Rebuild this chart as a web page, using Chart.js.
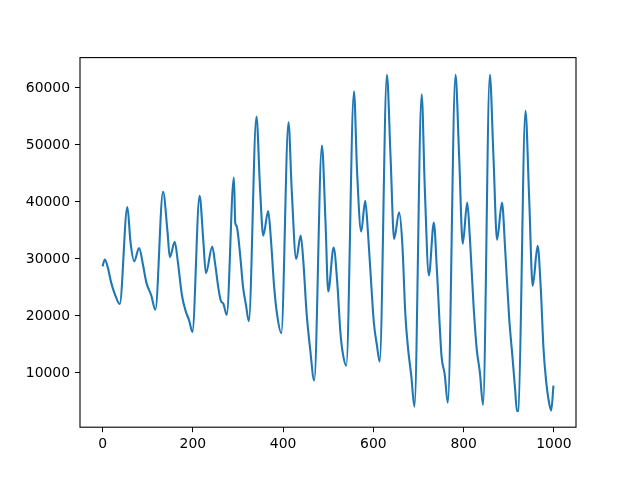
<!DOCTYPE html>
<html lang="en">
  <head>
    <meta charset="utf-8">
    <title>Line</title>
    <style>
      body { margin: 0; background: #fff; }
      #wrap { width: 640px; height: 480px; }
    </style>
  </head>
  <body>
    <div id="wrap"><canvas id="MyCanvas" width="640" height="480"></canvas></div>

    <script src="https://cdn.jsdelivr.net/npm/chart.js@4.4.0/dist/chart.umd.min.js"></script>
    <script>
      // points (sample index, value)
      const xs = [0, 5, 12, 19, 27, 38, 55, 62, 70, 81, 90, 97, 108, 117, 134, 144, 149, 160, 167, 176,
                  184, 192, 199, 215, 223, 229, 243, 249, 257, 262, 268, 275, 291, 294, 297, 305, 311, 318, 324, 341,
                  349, 356, 367, 373, 380, 387, 396, 412, 419, 429, 439, 445, 452, 460, 469, 486, 494, 500, 512, 520,
                  527, 532, 540, 557, 564, 573, 582, 588, 596, 601, 608, 614, 630, 638, 646, 657, 664, 671, 677, 684,
                  691, 707, 714, 723, 734, 741, 751, 758, 765, 782, 790, 798, 808, 814, 822, 829, 836, 843, 858, 866,
                  874, 885, 892, 901, 908, 914, 918, 921, 937, 945, 953, 964, 971, 977, 983, 988, 994, 999];
      const ys = [28700, 29900, 28400, 25900, 23900, 22100, 39100, 32900, 29600, 31900, 28800, 25900, 23600, 21100, 41800, 34700, 30300, 33000, 29400, 23600,
                  20900, 19200, 17200, 41100, 33500, 27500, 32200, 29400, 24700, 22700, 22100, 20200, 44300, 36400, 35800, 30600, 25300, 21800, 19100, 55000,
                  42300, 34100, 38400, 33500, 25300, 20100, 17000, 54000, 42300, 30000, 34100, 29400, 20600, 14200, 8700, 49900, 36400, 24300, 32000, 25900,
                  17100, 13600, 11300, 59400, 45200, 34800, 40200, 34700, 24700, 18900, 14800, 12000, 62300, 48100, 33500, 38200, 32900, 20100, 14200, 9500,
                  4100, 58900, 42300, 27100, 36400, 27700, 13000, 9800, 4800, 62300, 48100, 32700, 39900, 33500, 21800, 14200, 10100, 4400, 62300, 48100,
                  33400, 39900, 31700, 19500, 13000, 7200, 3300, 3350, 56000, 41100, 25300, 32300, 24700, 14200, 8400, 5400, 3400, 7800];
      const xTicks = [0, 200, 400, 600, 800, 1000];
      const yTicks = [10000, 20000, 30000, 40000, 50000, 60000];

      const points = xs.map((x, i) => ({ x: x, y: ys[i] }));
      const tickFont = { family: 'DejaVu Sans', size: 13.9 };

      // matplotlib style box round the plot
      const frame = {
        id: 'frame',
        afterDraw(chart) {
          const a = chart.chartArea, c = chart.ctx;
          c.save();
          c.strokeStyle = '#000';
          c.lineWidth = 1.1;
          c.strokeRect(a.left, a.top, a.right - a.left, a.bottom - a.top);
          c.restore();
        }
      };

      const ctx = document.getElementById('MyCanvas');
      const MyCanvas = new Chart(ctx, {
        type: 'line',
        data: {
          datasets: [{
            data: points,
            borderColor: '#1f77b4',
            borderWidth: 2.1,
            pointRadius: 0,
            cubicInterpolationMode: 'monotone',
            fill: false
          }]
        },
        options: {
          responsive: false,
          animation: false,
          layout: { padding: { left: 0, top: 57.6, right: 64, bottom: 0 } },
          plugins: { legend: { display: false }, tooltip: { enabled: false } },
          scales: {
            x: {
              type: 'linear',
              min: -49.95,
              max: 1048.95,
              afterFit: s => { s.height = 52.8; },
              afterBuildTicks: s => { s.ticks = xTicks.map(v => ({ value: v })); },
              border: { display: false },
              grid: { drawOnChartArea: false, drawTicks: true, tickLength: 5, color: '#000', lineWidth: 1 },
              ticks: { color: '#000', font: tickFont, padding: 4, maxRotation: 0, callback: v => String(v) }
            },
            y: {
              type: 'linear',
              min: 491,
              max: 65333,
              afterFit: s => { s.width = 80; },
              afterBuildTicks: s => { s.ticks = yTicks.map(v => ({ value: v })); },
              border: { display: false },
              grid: { drawOnChartArea: false, drawTicks: true, tickLength: 5, color: '#000', lineWidth: 1 },
              ticks: { color: '#000', font: tickFont, padding: 5, callback: v => String(v) }
            }
          }
        },
        plugins: [frame]
      });
    </script>
  </body>
</html>
